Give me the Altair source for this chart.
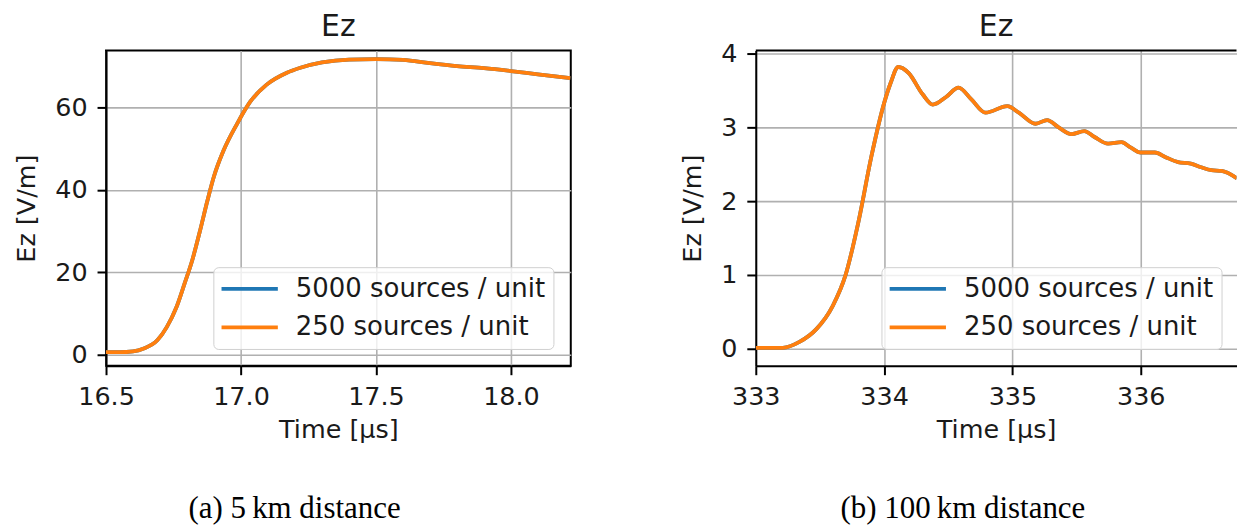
import altair as alt
import pandas as pd

SERIES = ["5000 sources / unit", "250 sources / unit"]
COLORS = ["#1f77b4", "#ff7f0e"]

# (a) 5 km distance: vertical field Ez [V/m] against time [µs]
time_5km = [16.50, 16.55, 16.60, 16.64, 16.69, 16.725, 16.76, 16.79, 16.82,
            16.85, 16.875, 16.90, 16.935, 16.985, 17.035, 17.095, 17.17,
            17.22, 17.30, 17.40, 17.50, 17.60, 17.70, 17.80, 17.90, 18.00,
            18.10, 18.22]
ez_5km_5000 = [0.5, 0.5, 0.7, 1.4, 3.4, 6.6, 11.3, 17.0, 23.0, 30.5, 37.2,
               43.3, 49.5, 56.0, 61.5, 65.6, 68.5, 69.7, 71.0, 71.7, 71.8,
               71.6, 70.8, 70.1, 69.6, 68.9, 68.1, 67.2]
# the coarse source density lies on top of the fine one within the line width
ez_5km_250 = [0.5, 0.5, 0.7, 1.4, 3.4, 6.6, 11.3, 17.0, 23.0, 30.5, 37.2,
              43.3, 49.5, 56.0, 61.5, 65.6, 68.5, 69.7, 71.0, 71.7, 71.8,
              71.6, 70.8, 70.1, 69.6, 68.9, 68.1, 67.2]

# (b) 100 km distance
time_100km = [333.00, 333.10, 333.21, 333.34, 333.47, 333.60, 333.70, 333.80,
              333.90, 334.00, 334.05, 334.11, 334.19, 334.30, 334.38, 334.48,
              334.58, 334.68, 334.79, 334.96, 335.05, 335.18, 335.27, 335.36,
              335.46, 335.56, 335.64, 335.745, 335.85, 335.92, 336.00, 336.11,
              336.19, 336.29, 336.39, 336.47, 336.55, 336.63, 336.75]
ez_100km_5000 = [0.01, 0.01, 0.01, 0.09, 0.26, 0.58, 1.00, 1.72, 2.60, 3.33,
                 3.60, 3.82, 3.74, 3.45, 3.31, 3.41, 3.54, 3.38, 3.20, 3.29,
                 3.20, 3.05, 3.10, 3.00, 2.91, 2.95, 2.87, 2.78, 2.80, 2.73,
                 2.66, 2.66, 2.60, 2.53, 2.51, 2.46, 2.42, 2.41, 2.31]
ez_100km_250 = [0.01, 0.01, 0.01, 0.09, 0.26, 0.58, 1.00, 1.72, 2.60, 3.33,
                3.60, 3.82, 3.74, 3.45, 3.31, 3.41, 3.54, 3.38, 3.20, 3.29,
                3.20, 3.05, 3.10, 3.00, 2.91, 2.95, 2.87, 2.78, 2.80, 2.73,
                2.66, 2.66, 2.60, 2.53, 2.51, 2.46, 2.42, 2.41, 2.31]

x_ticks_5km = [16.5, 17.0, 17.5, 18.0]
y_ticks_5km = [0, 20, 40, 60]
x_ticks_100km = [333, 334, 335, 336]
y_ticks_100km = [0, 1, 2, 3, 4]

HEIGHT = 316
FONT = "DejaVu Sans"
TEXT = "#1a1a1a"


def panel(time, ez_fine, ez_coarse, x_dom, y_dom, x_ticks, y_ticks, x_fmt,
          width, legend_xy, title_offset, caption, caption_dx,
          open_right=False):
    df = pd.concat([
        pd.DataFrame({"time": time, "ez": ez_fine, "series": SERIES[0]}),
        pd.DataFrame({"time": time, "ez": ez_coarse, "series": SERIES[1]}),
    ], ignore_index=True)

    x = alt.X("time:Q",
              scale=alt.Scale(domain=x_dom, nice=False, zero=False),
              axis=alt.Axis(values=x_ticks, format=x_fmt, title="Time [µs]"))
    y = alt.Y("ez:Q",
              scale=alt.Scale(domain=y_dom, nice=False, zero=False),
              axis=alt.Axis(values=y_ticks, format="d", title="Ez [V/m]"))
    color = alt.Color(
        "series:N",
        scale=alt.Scale(domain=SERIES, range=COLORS),
        legend=alt.Legend(
            title=None, orient="none",
            legendX=legend_xy[0], legendY=legend_xy[1],
            symbolType="M-2.5,0H2.5", symbolSize=510,
            symbolStrokeWidth=3.8, symbolOffset=14.75,
            labelOffset=32.75, labelFont=FONT, labelFontSize=26,
            labelColor=TEXT, labelLimit=400,
            padding=8.2, rowPadding=11.7,
            fillColor="rgba(255,255,255,0.8)", strokeColor="#d0d0d0",
            cornerRadius=5,
        ),
    )

    # fine source density first, coarse one drawn over it
    layers = [
        alt.Chart(df)
        .transform_filter(alt.datum.series == s)
        .mark_line(strokeWidth=3.8, clip=True, interpolate="monotone")
        .encode(x=x, y=y, color=color)
        for s in SERIES
    ]
    if open_right:
        # top spine only; the frame runs off the right edge of the figure
        layers.append(
            alt.Chart(pd.DataFrame({"edge": [0]}))
            .mark_rule(color="black", strokeWidth=2)
            .encode(x=alt.value(0), x2=alt.value(width), y=alt.value(0))
        )

    layer = alt.layer(*layers).properties(
        width=width, height=HEIGHT,
        title=alt.TitleParams("Ez", font=FONT, fontSize=30,
                              fontWeight="normal", color=TEXT,
                              anchor="middle", frame="group",
                              offset=title_offset),
    )
    if open_right:
        layer = layer.properties(view=alt.ViewBackground(stroke="transparent"))

    return alt.vconcat(
        layer,
        title=alt.TitleParams(caption, orient="bottom", anchor="middle",
                              frame="bounds", dx=caption_dx, offset=50,
                              font="Liberation Serif", fontSize=31,
                              fontWeight="normal", color="black"),
    )


panel_a = panel(time_5km, ez_5km_5000, ez_5km_250, [16.5, 18.2216],
                [-2.79, 73.88], x_ticks_5km, y_ticks_5km, ".1f", 466,
                (107.6, 217.2), 9, "(a) 5\u2009km distance", 2)
panel_b = panel(time_100km, ez_100km_5000, ez_100km_250, [333.0, 336.746],
                [-0.233, 4.043], x_ticks_100km, y_ticks_100km, "d", 482,
                (126.0, 217.2), 0, "(b) 100\u2009km distance", 4,
                open_right=True)

chart = (
    alt.hconcat(panel_a, panel_b, spacing=107.5)
    .resolve_scale(color="independent")
    .properties(padding={"left": 13.3, "top": 10, "right": 0, "bottom": 0},
                background="white")
    .configure_axis(
        labelFont=FONT, labelFontSize=25.5, labelColor=TEXT,
        titleFont=FONT, titleFontSize=25.5, titleFontWeight="normal",
        titleColor=TEXT, tickColor="black", tickWidth=2, tickSize=9,
        domainColor="black", domainWidth=2, gridColor="#b0b0b0",
        gridWidth=1.6, labelFlush=False,
    )
    .configure_axisX(labelPadding=9.5, titlePadding=8)
    .configure_axisY(labelPadding=10, titlePadding=15.5)
    .configure_view(stroke="black", strokeWidth=2)
)

chart.save("out.html", embed_options={"renderer": "svg", "actions": False})
